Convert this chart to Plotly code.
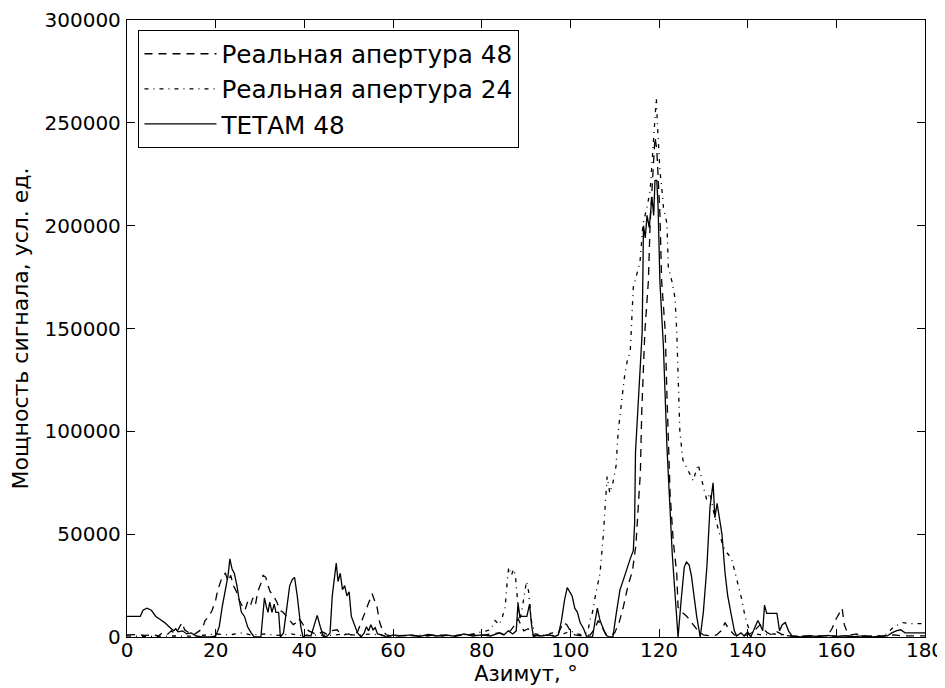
import plotly.graph_objects as go

# ТЕТАМ 48 (solid)
tetam_x = [0, 3, 3.6, 4.5, 5.5, 6.5, 7.5, 8.5, 9.5, 10, 10.5, 11, 11.5, 12.5, 13.5, 14.5, 15.5, 17, 19, 20,
           20.8, 21.5, 22.3, 22.8, 23.2, 23.7, 24.2, 24.8, 25.3, 25.8, 26.5, 27.2, 28, 28.7, 30.2, 30.7, 31,
           31.4, 31.8, 32.2, 32.7, 33.2, 33.6, 34.2, 34.6, 35.3, 36, 36.7, 37.3, 37.8, 38.4, 39.2, 39.7, 40.5,
           41.5, 42.2, 42.9, 43.6, 44.3, 45.2, 45.8, 46.3, 46.8, 47.2, 47.6, 48.1, 48.6, 49.1, 49.6, 50.1,
           50.6, 51.3, 52, 52.8, 53.5, 54, 54.5, 55, 55.5, 56, 56.5, 57.5, 58.5, 60, 62, 64, 66, 68, 70, 72,
           74, 76, 78, 80, 82, 84, 85, 86, 87, 87.8, 88.2, 88.6, 90.2, 90.8, 91.3, 91.7, 92.5, 93.5, 95, 96.5,
           97.3, 98, 98.7, 99.3, 99.8, 100.4, 101, 101.6, 102.2, 103, 103.7, 105, 105.6, 106.1, 106.7, 107.3,
           108, 108.7, 109.6, 110.4, 111.2, 112, 112.8, 113.5, 114.2, 114.5, 114.7, 115.4, 116.2, 116.5,
           116.9, 117.3, 117.8, 118.4, 118.8, 119.1, 119.5, 119.8, 120.2, 121, 121.8, 123, 124.3, 125, 125.7,
           126.2, 126.8, 127.3, 127.8, 128.5, 129.3, 130, 130.8, 131.5, 132.2, 132.6, 133.1, 133.6, 134.2,
           134.9, 135.5, 136.2, 137, 137.5, 138.5, 139.2, 140, 140.7, 141.5, 142.3, 142.8, 143.4, 143.8,
           144.3, 146.6, 147.2, 147.8, 148.5, 149.2, 150, 152, 154, 156, 158, 160, 162, 164, 166, 168, 170,
           171.5, 172.5, 173.5, 174.5, 175.5, 180]
tetam_y = [10000, 10000, 13000, 14000, 13000, 10000, 8500, 7000, 5000, 4000, 3000, 4000, 2500, 3000, 1500, 2000,
           500, 0, 0, 500, 5000, 15000, 25000, 30000, 38000, 33000, 31000, 25000, 18000, 12000, 10000, 5000,
           2000, 0, 0, 12000, 19000, 15000, 12000, 17000, 12000, 16000, 12000, 12000, 0, 2000, 15000, 25000,
           28000, 29000, 20000, 5000, 0, 1000, 500, 5000, 10500, 5000, 0, 500, 2000, 20000, 30000, 36000,
           27000, 31000, 23000, 25000, 20000, 22000, 10000, 6000, 2000, 0, 2000, 5000, 3000, 6000, 3500,
           4500, 1500, 1000, 0, 1000, 500, 1000, 300, 1200, 500, 1000, 300, 1500, 500, 1000, 500, 2000, 1000,
           3000, 1500, 3000, 16500, 10000, 10000, 16000, 5000, 0, 1000, 500, 1000, 300, 1000, 8000, 18000,
           24000, 22000, 20000, 14000, 12000, 7000, 4000, 0, 0, 8000, 14000, 8000, 5000, 1000, 0, 0, 12000,
           23000, 28000, 34000, 38000, 42000, 55000, 90000, 115000, 148000, 200000, 194000, 205000, 199000,
           214000, 205000, 222000, 222000, 209000, 173000, 141000, 92000, 40000, 0, 18000, 34000, 36500,
           35000, 30000, 22000, 10000, 0, 12000, 34000, 63000, 75000, 58000, 65000, 58000, 50000, 31000,
           20000, 12000, 3000, 500, 2000, 500, 2500, 0, 4000, 8000, 6000, 3000, 15500, 11500, 11500, 3000,
           6000, 7000, 3000, 500, 0, 600, 200, 800, 300, 600, 200, 500, 0, 300, 500, 2000, 3000, 3500, 2000,
           2000]

# Реальная апертура 48 (dashed)
ra48_x = [0, 2, 4, 6, 7, 8, 9, 10, 10.8, 11.5, 12.4, 13, 14, 15, 16, 17, 17.6, 18.5, 19.2, 20, 20.5, 21.2,
          21.6, 22.2, 22.8, 23.4, 24, 24.7, 25.3, 26, 26.6, 27.2, 27.8, 28.4, 29, 29.5, 30.2, 30.7, 31.3,
          31.8, 32.3, 33, 33.8, 34.5, 35.2, 36, 36.8, 37.5, 38.2, 38.7, 39.3, 40, 41, 42, 43, 44, 45, 46,
          47.4, 48, 49, 50, 51, 52, 53, 54.1, 54.6, 55.3, 55.8, 56.4, 57, 57.7, 58.5, 60, 63, 66, 70, 74,
          78, 80, 82, 84, 85, 86.5, 87.5, 88.2, 88.8, 89.5, 90.5, 91.5, 93, 95, 97, 97.8, 98.4, 99.2, 100,
          101, 103, 104.5, 105.5, 106.3, 107, 108, 109, 110, 111, 112, 113, 114, 114.8, 115.3, 115.8, 116.1,
          116.8, 117.6, 118, 118.4, 118.7, 119.1, 119.5, 119.8, 120.2, 120.6, 121.4, 121.8, 122.5, 123.2,
          124, 124.3, 125.2, 126.3, 127.4, 128.6, 130, 132, 133, 134, 134.9, 135.7, 137, 139, 140.5, 141.5,
          142.8, 143.5, 144.5, 145.5, 146.6, 147.5, 149, 152, 155, 158, 159, 160, 160.8, 161.3, 161.8,
          162.5, 163.5, 164.5, 166, 170, 173, 175, 180]
ra48_y = [1000, 1200, 800, 1000, 500, 2000, 1000, 3000, 1500, 3500, 7000, 3500, 2000, 1000, 2500, 4000, 8000,
          10000, 13000, 18000, 23000, 27000, 30000, 31000, 27000, 30000, 25000, 22000, 18000, 15000, 13000,
          17000, 15000, 19000, 16000, 22000, 26000, 30000, 29000, 25000, 22000, 20000, 17000, 13000, 12000,
          10000, 8000, 6000, 7000, 9000, 7500, 5000, 3000, 2000, 1000, 2500, 1500, 3000, 3500, 2000, 1000,
          1500, 500, 2500, 8000, 14500, 17000, 21000, 18000, 14500, 7000, 3000, 1000, 500, 800, 400, 1000,
          500, 1200, 800, 1500, 2000, 1500, 3000, 6000, 9000, 6000, 3000, 4000, 1000, 500, 1000, 500, 4000,
          7000, 6000, 3000, 1000, 500, 1000, 4000, 8000, 5000, 1500, 500, 2000, 7000, 15000, 25000, 32000,
          45000, 60000, 80000, 109000, 148000, 173000, 201000, 217000, 230000, 243000, 237000, 225000,
          206000, 173000, 149000, 117000, 70000, 47000, 31000, 14500, 12000, 10000, 7000, 3500, 1000, 500,
          1000, 3000, 7000, 4000, 1000, 500, 1500, 3000, 6000, 4000, 2000, 1000, 2500, 1500, 500, 300, 600,
          500, 4000, 9000, 12000, 14000, 6000, 2000, 1000, 1500, 500, 400, 1000, 500, 500]

# Реальная апертура 24 (dash-dot)
ra24_x = [0, 5, 10, 15, 18, 20, 23, 26, 28, 31, 34, 37, 40, 43, 46, 49, 52, 55, 58, 62, 66, 70, 74, 78, 80,
          82, 83, 84, 84.7, 85.3, 85.8, 86.1, 86.7, 87.2, 87.6, 88, 88.5, 89, 89.6, 90.1, 90.6, 91.2, 92, 94,
          96, 98, 100, 101.5, 103, 104, 104.4, 105, 105.6, 106.7, 107.4, 107.8, 108.3, 108.9, 109.6, 110.3,
          110.8, 111.7, 112.3, 113, 113.5, 114.2, 114.6, 115.2, 115.7, 116.4, 117.3, 118, 118.7, 119.1,
          119.4, 119.6, 120.2, 120.6, 121, 121.8, 122.1, 122.9, 123.6, 124, 124.4, 124.7, 125.4, 126.6,
          127.7, 128.8, 129.3, 130, 130.8, 131.5, 132.2, 133.3, 134.2, 134.9, 135.7, 136.5, 137.6, 138.7,
          139.4, 140.1, 141, 143, 146, 148, 150, 155, 160, 165, 170, 171, 172, 173, 174, 175, 177, 180]
ra24_y = [500, 300, 500, 400, 1000, 1500, 1000, 2000, 1000, 1500, 800, 1500, 500, 1000, 800, 1500, 800, 1500,
          600, 500, 900, 400, 800, 1500, 2500, 3500, 8000, 6000, 10000, 14500, 28000, 34000, 30000, 33000,
          30000, 20000, 8000, 12000, 20000, 27000, 22000, 8000, 1500, 1000, 2000, 1000, 3000, 1500, 1000,
          3000, 8000, 12000, 19500, 31000, 48600, 63000, 78000, 70000, 75000, 83000, 100000, 117000, 128000,
          136000, 138000, 170000, 173000, 178000, 182000, 201000, 209000, 217000, 238000, 255000, 262000,
          251000, 227000, 219000, 209000, 201000, 180000, 173000, 165000, 149000, 125000, 100000, 86000,
          81000, 76000, 84000, 80000, 73000, 66500, 70000, 62000, 53000, 46000, 42000, 40000, 37000, 28000,
          18000, 10000, 5000, 2000, 1000, 1500, 800, 500, 300, 500, 300, 500, 1000, 3000, 5000, 6000, 7000,
          6500, 6500]

x_ticks = [0, 20, 40, 60, 80, 100, 120, 140, 160, 180]
y_ticks = [0, 50000, 100000, 150000, 200000, 250000, 300000]

FONT = "DejaVu Sans, Liberation Sans, sans-serif"

fig = go.Figure()
fig.add_trace(go.Scatter(x=ra48_x, y=ra48_y, mode="lines", name="Реальная апертура 48",
                         line=dict(color="black", width=1.3, dash="8px,6px")))
fig.add_trace(go.Scatter(x=ra24_x, y=ra24_y, mode="lines", name="Реальная апертура 24",
                         line=dict(color="black", width=1.3, dash="4px,5px,1px,5px")))
fig.add_trace(go.Scatter(x=tetam_x, y=tetam_y, mode="lines", name="ТЕТАМ 48",
                         line=dict(color="black", width=1.3)))

axis_common = dict(showline=True, linecolor="black", linewidth=1.3, mirror="ticks",
                   ticks="inside", ticklen=8, tickwidth=1, tickcolor="black",
                   showgrid=False, zeroline=False, automargin=False,
                   tickfont=dict(family=FONT, size=20, color="black"))

# the page body has an 8px margin, so the figure is sized/offset to land the plot area
# at the same screen position as in the reference
fig.update_layout(
    width=937, height=680,
    margin=dict(l=119, r=20, t=12, b=51),
    paper_bgcolor="white", plot_bgcolor="white",
    font=dict(family=FONT, size=20, color="black"),
    xaxis=dict(range=[0, 180], tickvals=x_ticks, ticktext=[str(v) for v in x_ticks],
               ticklabelstandoff=-5,
               title=dict(text="Азимут, °", font=dict(family=FONT, size=21), standoff=5),
               **axis_common),
    yaxis=dict(range=[0, 300000], tickvals=y_ticks, ticktext=[str(v) for v in y_ticks],
               ticklabelstandoff=1,
               title=dict(text="Мощность сигнала, усл. ед.", font=dict(family=FONT, size=22), standoff=10),
               **axis_common),
    legend=dict(x=0.014, y=0.984, xanchor="left", yanchor="top",
                bgcolor="white", bordercolor="black", borderwidth=1.3,
                font=dict(family=FONT, size=24.7, color="black"),
                itemwidth=72, tracegroupgap=10),
    showlegend=True,
)

fig.write_html("out.html")
